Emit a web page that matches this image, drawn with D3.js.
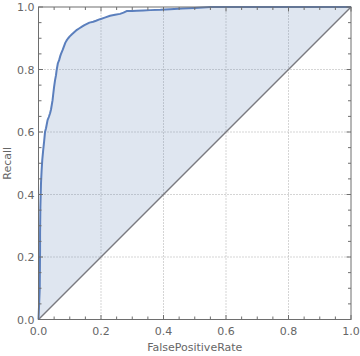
<!DOCTYPE html>
<html><head><meta charset="utf-8">
<script src="https://cdn.jsdelivr.net/npm/d3@7"></script>
<style>body{margin:0;background:#fff}svg{display:block}text{font-family:"DejaVu Sans",sans-serif}</style>
</head><body><svg id="c" width="360" height="356"></svg>
<script>
const fpr = [0,0.004,0.005,0.005,0.006,0.008,0.010,0.012,0.015,0.018,0.021,0.024,0.029,0.033,0.037,0.040,0.045,0.047,0.050,0.053,0.056,0.058,0.062,0.066,0.069,0.072,0.077,0.080,0.083,0.086,0.090,0.095,0.100,0.107,0.115,0.123,0.131,0.139,0.147,0.155,0.163,0.175,0.184,0.197,0.212,0.229,0.245,0.261,0.272,0.282,0.300,0.314,0.335,0.357,0.39,0.421,0.46,0.5,0.55,0.6,0.7,0.8,0.9,1.0];
const tpr = [0,0.10,0.22,0.276,0.36,0.436,0.478,0.51,0.542,0.57,0.601,0.612,0.638,0.648,0.66,0.672,0.702,0.72,0.745,0.766,0.782,0.798,0.82,0.83,0.841,0.85,0.862,0.870,0.878,0.886,0.893,0.900,0.906,0.913,0.920,0.927,0.932,0.937,0.942,0.946,0.95,0.953,0.956,0.961,0.966,0.972,0.975,0.978,0.982,0.987,0.987,0.988,0.989,0.99,0.991,0.993,0.995,0.997,1.0,1.0,1.0,1.0,1.0,1.0];
const diagX = [0,1];
const diagY = [0,1];
const majorTicks = [0,0.2,0.4,0.6,0.8,1.0];
const gridTicks = [0.2,0.4,0.6,0.8];
const xLabel = "FalsePositiveRate";
const yLabel = "Recall";

const svg = d3.select("#c");
const x = d3.scaleLinear().domain([0,1]).range([38.5,351]);
const y = d3.scaleLinear().domain([0,1]).range([319.5,7]);
const minor = d3.range(0,1.0001,0.05);
const frameCol = "#6e6e6e", textCol = "#666";

const g = svg.append("g");
gridTicks.forEach(t=>{
  g.append("line").attr("x1",x(t)).attr("x2",x(t)).attr("y1",y(0)).attr("y2",y(1))
   .attr("stroke","#aaaaaa").attr("stroke-width",1).attr("stroke-dasharray","1,2");
  g.append("line").attr("y1",y(t)).attr("y2",y(t)).attr("x1",x(0)).attr("x2",x(1))
   .attr("stroke","#aaaaaa").attr("stroke-width",1).attr("stroke-dasharray","1,2");
});

const pts = fpr.map((d,i)=>[d,tpr[i]]);
const line = d3.line().x(d=>x(d[0])).y(d=>y(d[1]));
svg.append("path").attr("d", line(pts)+"Z")
  .attr("fill","rgb(94,129,181)").attr("fill-opacity",0.2).attr("stroke","none");
svg.append("path").attr("d", line(diagX.map((d,i)=>[d,diagY[i]])))
  .attr("fill","none").attr("stroke","#7a7a80").attr("stroke-width",1.4);
svg.append("path").attr("d", line(pts))
  .attr("fill","none").attr("stroke","#5b7fbd").attr("stroke-width",2).attr("stroke-linejoin","round");

const fr = svg.append("g");
fr.append("rect").attr("x",x(0)).attr("y",y(1)).attr("width",x(1)-x(0)).attr("height",y(0)-y(1))
  .attr("fill","none").attr("stroke",frameCol).attr("stroke-width",1);
minor.forEach(t=>{
  const isMaj = majorTicks.some(m=>Math.abs(m-t)<1e-6);
  const L = isMaj?4.5:3;
  fr.append("line").attr("x1",x(t)).attr("x2",x(t)).attr("y1",y(0)).attr("y2",y(0)-L).attr("stroke",frameCol);
  fr.append("line").attr("x1",x(t)).attr("x2",x(t)).attr("y1",y(1)).attr("y2",y(1)+L).attr("stroke",frameCol);
  fr.append("line").attr("y1",y(t)).attr("y2",y(t)).attr("x1",x(0)).attr("x2",x(0)+L).attr("stroke",frameCol);
  fr.append("line").attr("y1",y(t)).attr("y2",y(t)).attr("x1",x(1)).attr("x2",x(1)-L).attr("stroke",frameCol);
});
const fmt = d3.format(".1f");
majorTicks.forEach(t=>{
  svg.append("text").attr("x",x(t)).attr("y",y(0)+15).attr("text-anchor","middle")
    .attr("font-size",11).attr("fill",textCol).text(fmt(t));
  svg.append("text").attr("x",x(0)-4).attr("y",y(t)+4).attr("text-anchor","end")
    .attr("font-size",11).attr("fill",textCol).text(fmt(t));
});
svg.append("text").attr("x",(x(0)+x(1))/2).attr("y",351).attr("text-anchor","middle")
  .attr("font-size",11).attr("fill",textCol).text(xLabel);
svg.append("text").attr("transform",`translate(11,${(y(0)+y(1))/2}) rotate(-90)`).attr("text-anchor","middle")
  .attr("font-size",11).attr("fill",textCol).text(yLabel);
</script></body></html>
